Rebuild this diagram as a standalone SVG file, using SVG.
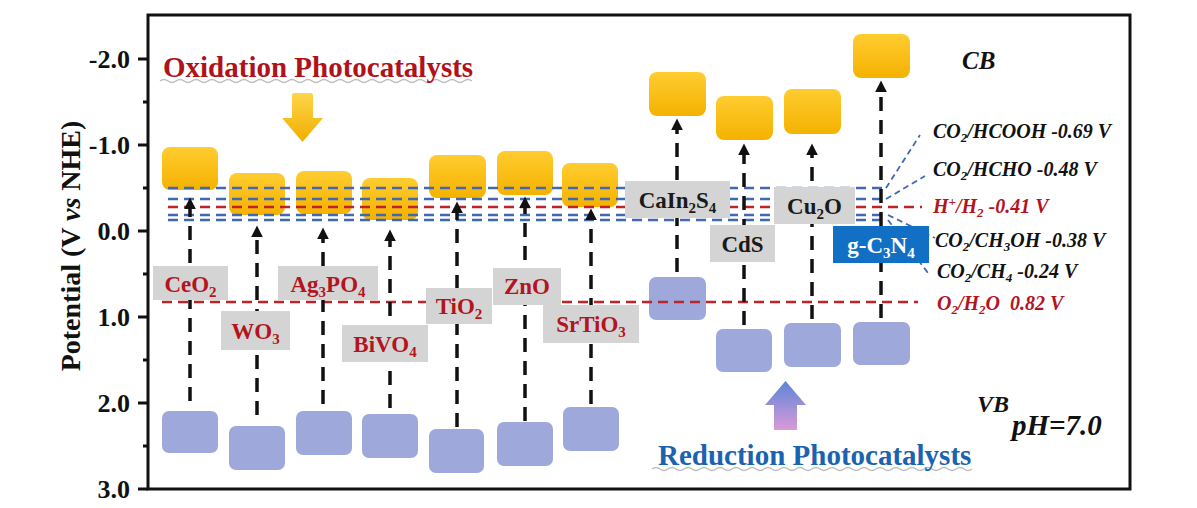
<svg xmlns="http://www.w3.org/2000/svg" width="1197" height="508" viewBox="0 0 1197 508">
<style>
.tick{font-family:"Liberation Serif",serif;font-weight:bold;font-size:26px;fill:#111;text-anchor:end}
.lbl{font-family:"Liberation Serif",serif;font-weight:bold;font-size:23px;text-anchor:middle}
.red{fill:#B3141E}
.blk{fill:#1a1a1a}
.wht{fill:#ffffff}
.box{fill:#D4D4D4}
.cb{fill:url(#cbGrad)}
.vb{fill:#9EA8DB}
.arr{stroke:#111;stroke-width:3.5;stroke-dasharray:14 9;fill:none;marker-end:url(#ah)}
.bl{stroke:#4268B4;stroke-width:2.5;stroke-dasharray:10 6;fill:none}
.rl{stroke:#C0222A;stroke-width:2.5;stroke-dasharray:10 6;fill:none}
.sl{stroke:#4268B4;stroke-width:1.8;stroke-dasharray:6 4;fill:none}
.pot{font-family:"Liberation Serif",serif;font-weight:bold;font-style:italic;font-size:20px}
.title{font-family:"Liberation Serif",serif;font-weight:bold;font-size:29px}
.wave{stroke:#BDBDBD;stroke-width:1.5;fill:none}
</style>
<defs>
<linearGradient id="cbGrad" x1="0" y1="0" x2="0" y2="1">
<stop offset="0" stop-color="#FFCC30"/>
<stop offset="1" stop-color="#F4B200"/>
</linearGradient>
<linearGradient id="yArr" x1="0" y1="0" x2="0" y2="1">
<stop offset="0" stop-color="#FFD54A"/>
<stop offset="1" stop-color="#EFAE00"/>
</linearGradient>
<linearGradient id="pArr" x1="0" y1="0" x2="0" y2="1">
<stop offset="0" stop-color="#5A86D8"/>
<stop offset="1" stop-color="#DA9AD6"/>
</linearGradient>
<marker id="ah" viewBox="0 0 10 10" refX="2" refY="5" markerWidth="12" markerHeight="12" markerUnits="userSpaceOnUse" orient="auto">
<path d="M0,0 L10,5 L0,10 z" fill="#111"/>
</marker>
</defs>
<rect width="1197" height="508" fill="#ffffff"/>

<g id="axes">
<rect x="148" y="15" width="982" height="474" fill="none" stroke="#111" stroke-width="3"/>
<path d="M138 59H148M138 145H148M138 231H148M138 317H148M138 403H148M138 489H148M143 102H148M143 188H148M143 274H148M143 360H148M143 446H148" stroke="#111" stroke-width="3"/>
<text class="tick" x="130" y="68">-2.0</text>
<text class="tick" x="130" y="154">-1.0</text>
<text class="tick" x="130" y="240">0.0</text>
<text class="tick" x="130" y="326">1.0</text>
<text class="tick" x="130" y="412">2.0</text>
<text class="tick" x="130" y="498">3.0</text>
<text transform="translate(80,246) rotate(-90)" font-family="Liberation Serif, serif" font-weight="bold" font-size="28" fill="#111" text-anchor="middle">Potential (V <tspan font-style="italic">vs</tspan> NHE)</text>
</g>

<g id="headings">
<path class="wave" d="M160 81q4 -3 8 0t8 0t8 0t8 0t8 0t8 0t8 0t8 0t8 0t8 0t8 0t8 0t8 0t8 0t8 0t8 0t8 0t8 0t8 0t8 0t8 0t8 0t8 0t8 0t8 0t8 0t8 0t8 0t8 0t8 0t8 0t8 0t8 0t8 0t8 0t8 0t8 0t8 0t8 0"/>
<text class="title" x="163" y="77" fill="#B0121B">Oxidation Photocatalysts</text>
<path d="M292 95Q292 93 294 93H311Q313 93 313 95V118H323L302.5 142L282 118H292Z" fill="url(#yArr)"/>
<path class="wave" d="M652 469q4 -3 8 0t8 0t8 0t8 0t8 0t8 0t8 0t8 0t8 0t8 0t8 0t8 0t8 0t8 0t8 0t8 0t8 0t8 0t8 0t8 0t8 0t8 0t8 0t8 0t8 0t8 0t8 0t8 0t8 0t8 0t8 0t8 0t8 0t8 0t8 0t8 0t8 0t8 0t8 0t8 0"/>
<text class="title" x="658" y="465" fill="#1B63AE">Reduction Photocatalysts</text>
<path d="M785.5 381L806 405H797V430H774V405H765Z" fill="url(#pArr)"/>
<text x="962" y="69" font-family="Liberation Serif, serif" font-weight="bold" font-style="italic" font-size="25" fill="#111">CB</text>
<text x="977" y="412" font-family="Liberation Serif, serif" font-weight="bold" font-style="italic" font-size="24" fill="#111">VB</text>
<text x="1012" y="435" font-family="Liberation Serif, serif" font-weight="bold" font-style="italic" font-size="29" fill="#111">pH=7.0</text>
</g>

<g id="bands">
<rect class="cb" x="162" y="147" width="56" height="43" rx="8"/>
<rect class="cb" x="229" y="173" width="56" height="42" rx="8"/>
<rect class="cb" x="296" y="171" width="56" height="43" rx="8"/>
<rect class="cb" x="362" y="178" width="56" height="42" rx="8"/>
<rect class="cb" x="429" y="155" width="57" height="43" rx="8"/>
<rect class="cb" x="497" y="151" width="56" height="44" rx="8"/>
<rect class="cb" x="562" y="163" width="56" height="44" rx="8"/>
<rect class="cb" x="649" y="72" width="57" height="44" rx="8"/>
<rect class="cb" x="716" y="96" width="57" height="44" rx="8"/>
<rect class="cb" x="784" y="89" width="57" height="45" rx="8"/>
<rect class="cb" x="853" y="34" width="57" height="44" rx="8"/>
<rect class="vb" x="162" y="411" width="56" height="42" rx="7"/>
<rect class="vb" x="229" y="426" width="56" height="44" rx="7"/>
<rect class="vb" x="296" y="411" width="56" height="44" rx="7"/>
<rect class="vb" x="362" y="414" width="56" height="44" rx="7"/>
<rect class="vb" x="429" y="429" width="55" height="44" rx="7"/>
<rect class="vb" x="497" y="422" width="56" height="44" rx="7"/>
<rect class="vb" x="563" y="407" width="56" height="44" rx="7"/>
<rect class="vb" x="649" y="277" width="57" height="43" rx="7"/>
<rect class="vb" x="716" y="329" width="56" height="43" rx="7"/>
<rect class="vb" x="784" y="323" width="57" height="44" rx="7"/>
<rect class="vb" x="853" y="322" width="57" height="43" rx="7"/>
</g>

<g id="connectors">
<path class="bl" d="M168 188H886"/>
<path class="bl" d="M168 199H886"/>
<path class="rl" d="M168 207H922"/>
<path class="bl" d="M168 215H888"/>
<path class="bl" d="M168 220H888"/>
<path class="rl" d="M162 302H918"/>
<path class="sl" d="M886 188L920 135"/>
<path class="sl" d="M886 199L925 176"/>
<path class="sl" d="M888 215L935 238"/>
<path class="sl" d="M888 220L928 273"/>
<path class="arr" d="M190 401V207"/>
<path class="arr" d="M257 415V235"/>
<path class="arr" d="M323 404V237"/>
<path class="arr" d="M390 408V239"/>
<path class="arr" d="M457 427V211"/>
<path class="arr" d="M525 421V206"/>
<path class="arr" d="M591 404V218"/>
<path class="arr" d="M677 272V128"/>
<path class="arr" d="M744 325V153"/>
<path class="arr" d="M812 319V153"/>
<path class="arr" d="M881 318V90"/>
</g>

<g id="CeO2"><rect class="box" x="153" y="266" width="75" height="34"/><text class="lbl red" x="190.5" y="292">CeO<tspan dy="5" font-size="15">2</tspan></text></g>
<g id="WO3"><rect class="box" x="221" y="311" width="69" height="39"/><text class="lbl red" x="255.5" y="339">WO<tspan dy="5" font-size="15">3</tspan></text></g>
<g id="Ag3PO4"><rect class="box" x="278" y="266" width="100" height="34"/><text class="lbl red" x="328" y="292">Ag<tspan dy="5" font-size="15">3</tspan><tspan dy="-5">PO</tspan><tspan dy="5" font-size="15">4</tspan></text></g>
<g id="BiVO4"><rect class="box" x="342" y="325" width="86" height="37"/><text class="lbl red" x="385" y="352">BiVO<tspan dy="5" font-size="15">4</tspan></text></g>
<g id="TiO2"><rect class="box" x="426" y="288" width="66" height="36"/><text class="lbl red" x="459" y="314">TiO<tspan dy="5" font-size="15">2</tspan></text></g>
<g id="ZnO"><rect class="box" x="493" y="268" width="68" height="37"/><text class="lbl red" x="527" y="294">ZnO</text></g>
<g id="SrTiO3"><rect class="box" x="543" y="305" width="96" height="38"/><text class="lbl red" x="591" y="332">SrTiO<tspan dy="5" font-size="15">3</tspan></text></g>
<g id="CaIn2S4"><rect class="box" x="625" y="181" width="105" height="37"/><text class="lbl blk" x="677.5" y="208">CaIn<tspan dy="5" font-size="15">2</tspan><tspan dy="-5">S</tspan><tspan dy="5" font-size="15">4</tspan></text></g>
<g id="CdS"><rect class="box" x="710" y="225" width="65" height="37"/><text class="lbl blk" x="742.5" y="252">CdS</text></g>
<g id="Cu2O"><rect class="box" x="774" y="187" width="81" height="37"/><text class="lbl blk" x="814.5" y="214">Cu<tspan dy="5" font-size="15">2</tspan><tspan dy="-5">O</tspan></text></g>
<g id="gC3N4"><rect x="833" y="226" width="96" height="37" fill="#1270C4"/><text class="lbl wht" x="881" y="253">g-C<tspan dy="5" font-size="15">3</tspan><tspan dy="-5">N</tspan><tspan dy="5" font-size="15">4</tspan></text></g>

<g id="potentials">
<text class="pot" x="933" y="138" fill="#111">CO<tspan dy="4" font-size="13">2</tspan><tspan dy="-4">/HCOOH -0.69 V</tspan></text>
<text class="pot" x="933" y="176" fill="#111">CO<tspan dy="4" font-size="13">2</tspan><tspan dy="-4">/HCHO -0.48 V</tspan></text>
<text class="pot" x="933" y="213" fill="#B3141E">H<tspan dy="-7" font-size="13">+</tspan><tspan dy="7">/H</tspan><tspan dy="4" font-size="13">2</tspan><tspan dy="-4"> -0.41 V</tspan></text>
<text class="pot" x="935" y="247" fill="#111">CO<tspan dy="4" font-size="13">2</tspan><tspan dy="-4">/CH</tspan><tspan dy="4" font-size="13">3</tspan><tspan dy="-4">OH -0.38 V</tspan></text>
<text class="pot" x="937" y="278" fill="#111">CO<tspan dy="4" font-size="13">2</tspan><tspan dy="-4">/CH</tspan><tspan dy="4" font-size="13">4</tspan><tspan dy="-4"> -0.24 V</tspan></text>
<text class="pot" x="937" y="310" fill="#B3141E" xml:space="preserve">O<tspan dy="4" font-size="13">2</tspan><tspan dy="-4">/H</tspan><tspan dy="4" font-size="13">2</tspan><tspan dy="-4">O  0.82 V</tspan></text>
</g>
</svg>
